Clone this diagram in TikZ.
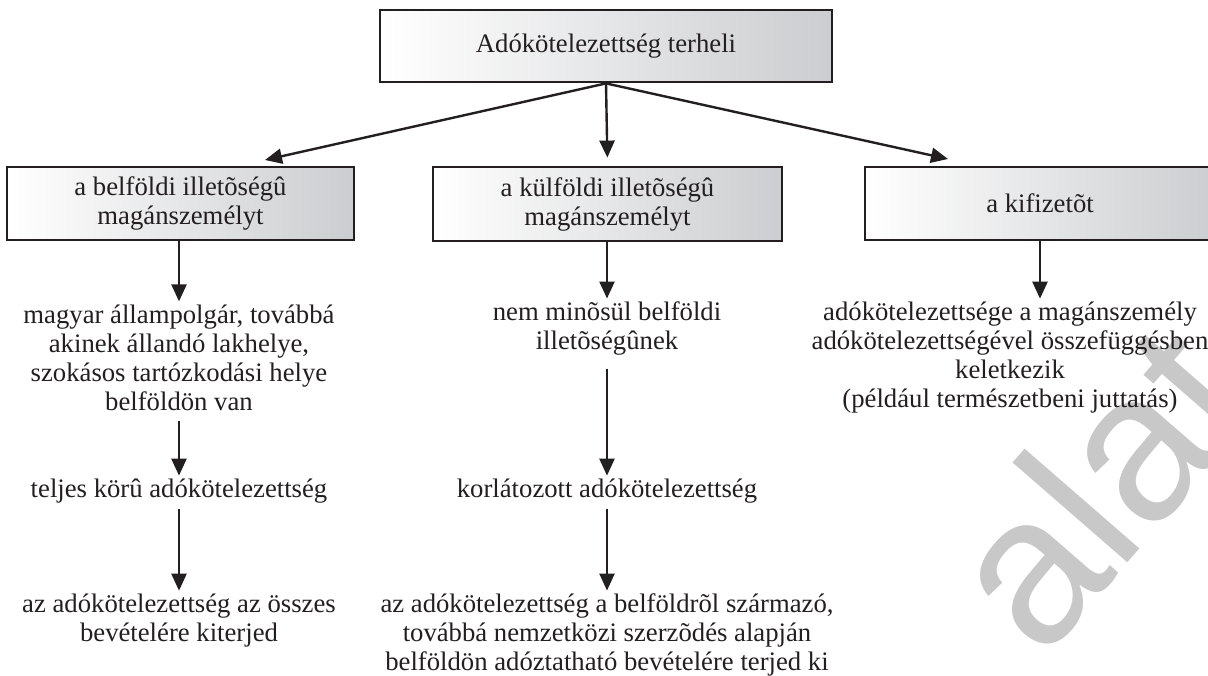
\documentclass[tikz,border=0pt]{standalone}
\usepackage{fontspec}
\setmainfont{Liberation Serif}
\newfontfamily\wmfont{Liberation Sans}
\usetikzlibrary{arrows.meta}
\definecolor{boxgray}{RGB}{204,205,208}
\definecolor{inkc}{RGB}{35,31,32}
\definecolor{wmgray}{RGB}{200,200,200}
\begin{document}
\begin{tikzpicture}[x=1pt,y=-1pt,
  every node/.style={font=\fontsize{26.7}{29}\selectfont, text=inkc, align=center, inner sep=0pt},
  hbox/.style={draw=inkc, line width=2.8pt, left color=white, right color=boxgray},
  arr/.style={draw=inkc, line width=2.4pt, -{Triangle[length=17pt,width=15pt]}},
]
\useasboundingbox (0,0) rectangle (1208,676);
\begin{scope}
\clip (0,0) rectangle (1208,676);
% watermark behind the chart
\node[font=\wmfont\fontsize{210}{210}\selectfont, text=wmgray, rotate=49, anchor=base west] (wm) at (1042,662) {alat};

% header boxes
\node[hbox, minimum width=452pt, minimum height=72pt] (top) at (606,46) {Adókötelezettség terheli};
\node[hbox, minimum width=347pt, minimum height=73pt] (lbox) at (180.5,203.5) {a belföldi illetõségû\\magánszemélyt};
\node[hbox, minimum width=349pt, minimum height=74pt] (mbox) at (607.5,204) {a külföldi illetõségû\\magánszemélyt};
\node[hbox, minimum width=350pt, minimum height=73pt] (rbox) at (1040,203.5) {a kifizetõt};

% left column
\node (l1) at (179,357.5) {magyar állampolgár, továbbá\\akinek állandó lakhelye,\\szokásos tartózkodási helye\\belföldön van};
\node (l2) at (179,491) {teljes körû adókötelezettség};
\node (l3) at (179,620.5) {az adókötelezettség az összes\\bevételére kiterjed};

% middle column
\node (m1) at (607,328.5) {nem minõsül belföldi\\illetõségûnek};
\node (m2) at (607,491) {korlátozott adókötelezettség};
\node (m3) at (607,635) {az adókötelezettség a belföldrõl származó,\\továbbá nemzetközi szerzõdés alapján\\belföldön adóztatható bevételére terjed ki};

% right column
\node (r1) at (1010,357.5) {adókötelezettsége a magánszemély\\adókötelezettségével összefüggésben\\keletkezik\\(például természetbeni juttatás)};

% arrow end points above the side boxes
\coordinate (ltip) at (265,160);
\coordinate (rtip) at (948,159);

% connectors
\draw[arr] (top.south) -- (ltip);
\draw[arr] (top.south) -- (rtip);
\draw[arr, shorten >=8pt] (top.south) -- (mbox.north);
\draw[arr, shorten >=3pt] (lbox.south -| l1.north) -- (l1.north);
\draw[arr, shorten <=10pt, shorten >=3pt] (l1.south) -- (l2.north);
\draw[arr, shorten <=6pt, shorten >=3pt] (l2.south) -- (l3.north);
\draw[arr, shorten >=3pt] (mbox.south -| m1.north) -- (m1.north);
\draw[arr, shorten <=14pt, shorten >=3pt] (m1.south) -- (m2.north);
\draw[arr, shorten <=6pt, shorten >=3pt] (m2.south) -- (m3.north);
\draw[arr, shorten >=3pt] (rbox.south) -- (rbox.south |- r1.north);
\end{scope}
\end{tikzpicture}
\end{document}
